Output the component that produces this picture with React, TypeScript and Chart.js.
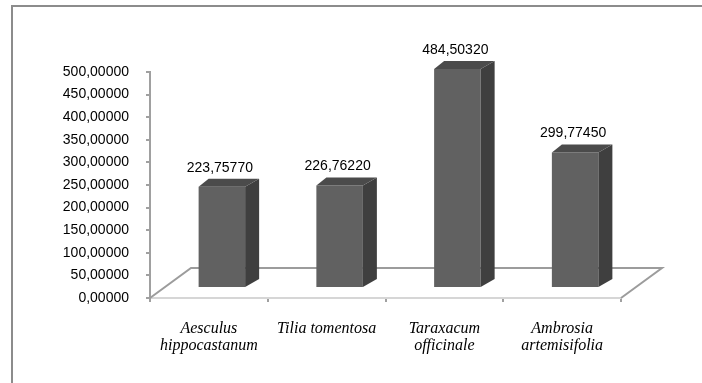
import React, { useEffect, useRef } from "react";
import { Chart, registerables } from "chart.js";

Chart.register(...registerables);

// Species and their measured values
const categories: (string | string[])[] = [
  ["Aesculus", "hippocastanum"],
  "Tilia tomentosa",
  ["Taraxacum", "officinale"],
  ["Ambrosia", "artemisifolia"],
];
const values = [223.7577, 226.7622, 484.5032, 299.7745];

// Value axis range
const axisMin = 0;
const axisMax = 500;
const axisStep = 50;

// Decimal comma, five decimals
const formatComma = (v: number) => v.toFixed(5).replace(".", ",");

// 3D projection offsets (pixels)
const FRONT = { dx: 13, dy: -10 }; // front face of the columns relative to the axis plane
const DEPTH = { dx: 14, dy: -8 }; // column depth
const FLOOR = { dx: 41, dy: -30 }; // floor depth

const COLORS = {
  front: "#616161",
  side: "#3f3f3f",
  top: "#4b4b4b",
  frame: "#8c8c8c",
  axis: "#a0a0a0",
  floorFront: "#d6d6d6",
  floor: "#9c9c9c",
};

const columns3d = {
  id: "columns3d",
  beforeDraw(chart: any) {
    const ctx = chart.ctx;
    ctx.save();
    ctx.fillStyle = "#ffffff";
    ctx.fillRect(0, 0, chart.width, chart.height);
    ctx.strokeStyle = COLORS.frame;
    ctx.lineWidth = 2;
    ctx.strokeRect(12, 6, chart.width + 40, chart.height + 40);
    ctx.restore();
  },
  beforeDatasetsDraw(chart: any) {
    const { ctx, chartArea: a } = chart;
    // floor outline behind the columns
    ctx.save();
    ctx.lineWidth = 2;
    ctx.strokeStyle = COLORS.floor;
    ctx.beginPath();
    ctx.moveTo(a.left, a.bottom);
    ctx.lineTo(a.left + FLOOR.dx, a.bottom + FLOOR.dy);
    ctx.lineTo(a.right + FLOOR.dx, a.bottom + FLOOR.dy);
    ctx.lineTo(a.right, a.bottom);
    ctx.stroke();
    ctx.restore();
    // columns stand in the middle of the floor depth
    ctx.save();
    ctx.translate(FRONT.dx, FRONT.dy);
  },
  afterDatasetsDraw(chart: any) {
    const ctx = chart.ctx;
    ctx.restore();
    const meta = chart.getDatasetMeta(0);
    const data = chart.data.datasets[0].data as number[];
    meta.data.forEach((bar: any, i: number) => {
      const { x, y, base, width } = bar.getProps(["x", "y", "base", "width"], true);
      const l = x - width / 2 + FRONT.dx;
      const r = x + width / 2 + FRONT.dx;
      const t = y + FRONT.dy;
      const b = base + FRONT.dy;
      ctx.save();
      // right side
      ctx.fillStyle = COLORS.side;
      ctx.beginPath();
      ctx.moveTo(r, t);
      ctx.lineTo(r + DEPTH.dx, t + DEPTH.dy);
      ctx.lineTo(r + DEPTH.dx, b + DEPTH.dy);
      ctx.lineTo(r, b);
      ctx.closePath();
      ctx.fill();
      // top
      ctx.fillStyle = COLORS.top;
      ctx.beginPath();
      ctx.moveTo(l, t);
      ctx.lineTo(l + DEPTH.dx - 4, t + DEPTH.dy);
      ctx.lineTo(r + DEPTH.dx, t + DEPTH.dy);
      ctx.lineTo(r, t);
      ctx.closePath();
      ctx.fill();
      // value label
      ctx.fillStyle = "#000000";
      ctx.font = "14px 'Liberation Sans', Arial, sans-serif";
      ctx.textAlign = "center";
      ctx.textBaseline = "middle";
      ctx.fillText(formatComma(data[i]), x + FRONT.dx - 2, t - 19);
      ctx.restore();
    });
  },
};

export default function App() {
  const canvasRef = useRef<HTMLCanvasElement | null>(null);

  useEffect(() => {
    const canvas = canvasRef.current;
    if (!canvas) return;
    const chart = new Chart(canvas, {
      type: "bar",
      data: {
        labels: categories,
        datasets: [
          {
            data: values,
            backgroundColor: COLORS.front,
            borderWidth: 0,
            categoryPercentage: 1,
            barPercentage: 0.395,
            clip: false as any,
          },
        ],
      },
      options: {
        responsive: false,
        animation: false,
        devicePixelRatio: 1,
        layout: { padding: { top: 72, right: 81, left: 0, bottom: 0 } },
        plugins: {
          legend: { display: false },
          tooltip: { enabled: false },
        },
        scales: {
          x: {
            offset: true,
            afterFit: (scale: any) => {
              scale.height = 85;
            },
            grid: {
              offset: true,
              drawOnChartArea: false,
              drawTicks: true,
              tickLength: 4,
              color: COLORS.axis,
              lineWidth: 2,
            },
            border: { display: true, color: COLORS.floorFront, width: 2 },
            ticks: {
              color: "#000000",
              padding: 18,
              maxRotation: 0,
              autoSkip: false,
              font: {
                family: "'Liberation Serif', 'Times New Roman', serif",
                size: 16,
                style: "italic",
                lineHeight: 1.08,
              },
            },
          },
          y: {
            min: axisMin,
            max: axisMax,
            afterFit: (scale: any) => {
              scale.width = 150;
            },
            grid: {
              drawOnChartArea: false,
              drawTicks: true,
              tickLength: 4,
              color: COLORS.axis,
              lineWidth: 2,
            },
            border: { display: true, color: COLORS.axis, width: 2 },
            ticks: {
              stepSize: axisStep,
              color: "#000000",
              padding: 17,
              font: { family: "'Liberation Sans', Arial, sans-serif", size: 14 },
              callback: (v: any) => formatComma(Number(v)),
            },
          },
        },
      },
      plugins: [columns3d],
    });
    return () => chart.destroy();
  }, []);

  return (
    <div style={{ position: "fixed", left: 0, top: 0, width: 702, height: 383, background: "#fff" }}>
      <canvas ref={canvasRef} width={702} height={383} style={{ display: "block" }} />
    </div>
  );
}
